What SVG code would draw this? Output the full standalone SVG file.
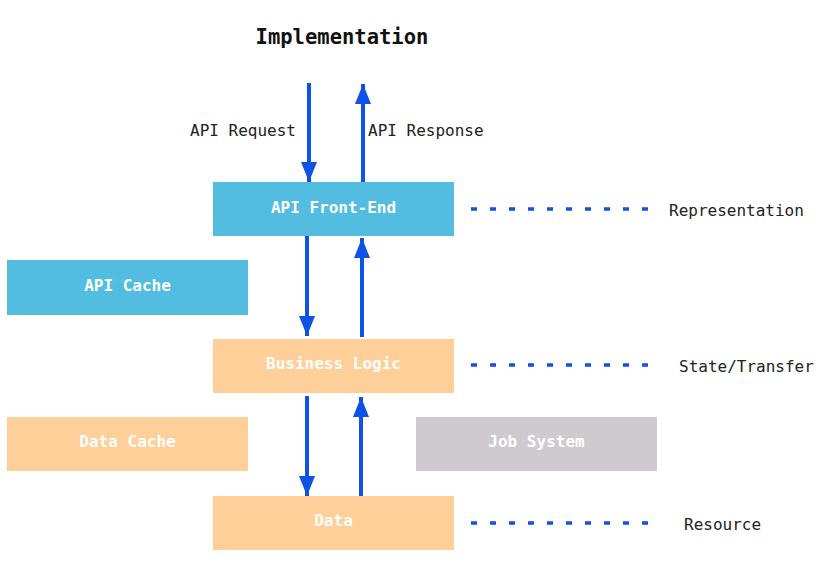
<svg xmlns="http://www.w3.org/2000/svg" width="825" height="575" viewBox="0 0 825 575">
<style>
.blue{fill:#52BDE1}
.orange{fill:#FFCF99}
.gray{fill:#CFCACF}
.lbl{font-family:"DejaVu Sans Mono","Liberation Mono",monospace;font-size:16px;font-weight:bold;fill:#fff;text-anchor:middle}
.txt{font-family:"DejaVu Sans Mono","Liberation Mono",monospace;font-size:16px;fill:#222}
.title{font-family:"DejaVu Sans Mono","Liberation Mono",monospace;font-size:20.5px;font-weight:bold;fill:#111;text-anchor:middle}
.arr{stroke:#0F52E6;stroke-width:4;fill:none;marker-end:url(#ah)}
.dot{stroke:#0F52E6;stroke-width:3.5;stroke-dasharray:6 13;fill:none}
</style>
<defs>
<marker id="ah" markerUnits="userSpaceOnUse" markerWidth="20" markerHeight="16" refX="20" refY="8" viewBox="0 0 20 16" orient="auto">
<path d="M0,0 L20,8 L0,16 Z" fill="#0F52E6"/>
</marker>
</defs>
<rect width="825" height="575" fill="#fff"/>
<text class="title" x="342" y="44">Implementation</text>
<text class="txt" x="190" y="136">API Request</text>
<text class="txt" x="368" y="136">API Response</text>
<g id="frontend"><rect class="blue" x="213" y="182" width="241" height="54"/><text class="lbl" x="333.5" y="213">API Front-End</text></g>
<g id="apicache"><rect class="blue" x="7" y="260" width="241" height="55"/><text class="lbl" x="127.5" y="291">API Cache</text></g>
<g id="business"><rect class="orange" x="213" y="339" width="241" height="54"/><text class="lbl" x="333.5" y="369">Business Logic</text></g>
<g id="datacache"><rect class="orange" x="7" y="417" width="241" height="54"/><text class="lbl" x="127.5" y="447">Data Cache</text></g>
<g id="jobsystem"><rect class="gray" x="416" y="417" width="241" height="54"/><text class="lbl" x="536.5" y="447">Job System</text></g>
<g id="data"><rect class="orange" x="213" y="496" width="241" height="54"/><text class="lbl" x="333.5" y="526">Data</text></g>
<g id="representation"><text class="txt" x="669" y="216">Representation</text></g>
<g id="state"><text class="txt" x="679" y="372">State/Transfer</text></g>
<g id="resource"><text class="txt" x="684" y="530">Resource</text></g>
<g id="connectors">
<line class="arr" x1="309" y1="83" x2="309" y2="182"/>
<line class="arr" x1="363" y1="182" x2="363" y2="84"/>
<line class="arr" x1="307" y1="236" x2="307" y2="336"/>
<line class="arr" x1="362" y1="337" x2="362" y2="238"/>
<line class="arr" x1="307" y1="396" x2="307" y2="496"/>
<line class="arr" x1="361" y1="496" x2="361" y2="397"/>
<line class="dot" x1="471" y1="209" x2="650" y2="209"/>
<line class="dot" x1="471" y1="365" x2="650" y2="365"/>
<line class="dot" x1="471" y1="523" x2="650" y2="523"/>
</g>
</svg>
